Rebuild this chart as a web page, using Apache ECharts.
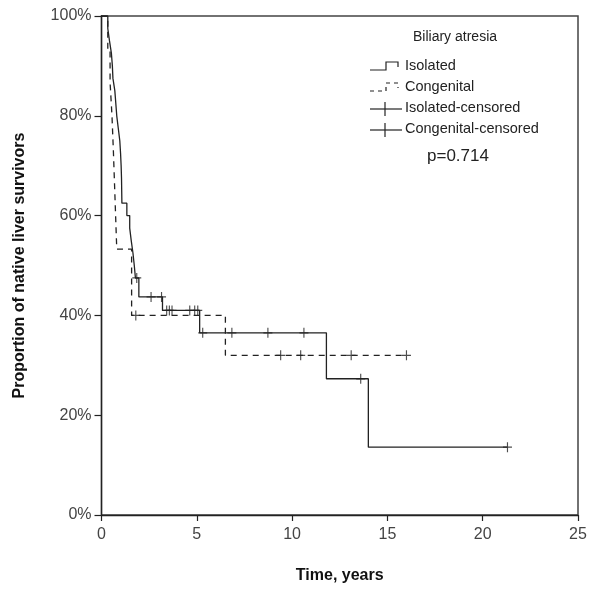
<!DOCTYPE html>
<html>
<head>
<meta charset="utf-8">
<script src="https://cdn.jsdelivr.net/npm/echarts@6/dist/echarts.min.js"></script>
<style>
html,body{margin:0;padding:0;background:#fff;}
#chart{width:591px;height:589px;}
</style>
</head>
<body>
<div id="chart"></div>
<script>
// ---- Data ----
const xTicks = [0, 5, 10, 15, 20, 25];
const yTicks = [0, 20, 40, 60, 80, 100];

// Isolated biliary atresia: Kaplan-Meier steps (time in years, survival %)
const isoTimes = [0, 0.33, 0.42, 0.52, 0.57, 0.60, 0.70, 0.75, 0.80, 0.88, 0.96, 1.00, 1.03, 1.05, 1.06, 1.07, 1.33, 1.48, 1.56, 1.65, 1.72, 1.78, 1.96, 3.20, 5.15, 11.80, 14.00, 21.30];
const isoSurv  = [100, 97.5, 95, 92.5, 90, 87.5, 85, 82.5, 80, 77.5, 75, 72.5, 70, 67.5, 65, 62.5, 60, 57.5, 55, 52.5, 50, 47.5, 43.7, 41, 36.5, 27.3, 13.6, 13.6];

// Congenital (syndromic) biliary atresia
const conTimes = [0, 0.33, 0.45, 0.55, 0.62, 0.68, 0.74, 0.80, 1.58, 6.50, 16.00];
const conSurv  = [100, 93.3, 86.7, 80, 73.3, 66.7, 60, 53.3, 40, 32, 32];

// Censored observations
const isoCensTimes = [1.85, 2.60, 3.15, 3.42, 3.56, 3.70, 4.63, 4.89, 5.05, 5.31, 6.84, 8.73, 10.62, 13.60, 21.30];
const isoCensSurv  = [47.5, 43.7, 43.7, 41, 41, 41, 41, 41, 41, 36.5, 36.5, 36.5, 36.5, 27.3, 13.6];
const conCensTimes = [1.80, 9.40, 10.45, 13.10, 16.00];
const conCensSurv  = [40, 32, 32, 32, 32];

const legendTitle = 'Biliary atresia';
const legendLabels = ['Isolated', 'Congenital', 'Isolated-censored', 'Congenital-censored'];
const pText = 'p=0.714';
const xName = 'Time, years';
const yName = 'Proportion of native liver survivors';

// ---- Build chart ----
const FONT = '"Liberation Sans", Arial, Helvetica, sans-serif';
const zip = (a, b) => a.map((v, i) => [v, b[i]]);
const plus = 'path://M5,0 L5,10 M0,5 L10,5';
const lineColor = '#222';

const chart = echarts.init(document.getElementById('chart'), null, {renderer: 'canvas'});

const lx = 370, ly0 = 67, dy = 21;
const graphic = [
  {type: 'text', left: 413, top: 30, style: {text: legendTitle, font: '14px ' + FONT, fill: '#222'}},
  {type: 'text', left: 427, top: 148, style: {text: pText, font: '17px ' + FONT, fill: '#222'}}
];
legendLabels.forEach((lab, i) => {
  const y = ly0 + i * dy;
  graphic.push({type: 'text', left: 405, top: y - 9, style: {text: lab, font: '14.5px ' + FONT, fill: '#222'}});
});
// legend icons
graphic.push({type: 'polyline', shape: {points: [[lx, ly0 + 3], [386, ly0 + 3], [386, ly0 - 5], [398, ly0 - 5], [398, ly0]]},
  style: {stroke: lineColor, lineWidth: 1.2, fill: null}});
graphic.push({type: 'polyline', shape: {points: [[lx, ly0 + dy + 3], [386, ly0 + dy + 3], [386, ly0 + dy - 5], [398, ly0 + dy - 5], [398, ly0 + dy]]},
  style: {stroke: lineColor, lineWidth: 1.2, fill: null, lineDash: [4, 4]}});
[2, 3].forEach(i => {
  const y = ly0 + i * dy;
  graphic.push({type: 'line', shape: {x1: lx, y1: y, x2: 402, y2: y}, style: {stroke: lineColor, lineWidth: 1.2}});
  graphic.push({type: 'line', shape: {x1: 385, y1: y - 7, x2: 385, y2: y + 7}, style: {stroke: lineColor, lineWidth: 1.2}});
});

const option = {
  animation: false,
  backgroundColor: '#fff',
  grid: {left: 101.5, right: 13, top: 16, bottom: 72, show: true, borderColor: '#444', borderWidth: 1.5},
  xAxis: {
    type: 'value', min: 0, max: 25, interval: 5,
    axisLine: {show: true, onZero: false, lineStyle: {color: lineColor, width: 1.3}},
    axisTick: {show: true, length: 6, lineStyle: {color: lineColor, width: 1.2}},
    splitLine: {show: false},
    axisLabel: {fontSize: 16, color: '#444', margin: 12, fontFamily: FONT,
      formatter: v => xTicks.includes(v) ? String(v) : ''},
    name: xName, nameLocation: 'middle', nameGap: 53,
    nameTextStyle: {fontWeight: 'bold', fontSize: 16, color: '#111', fontFamily: FONT}
  },
  yAxis: {
    type: 'value', min: 0, max: 100, interval: 20,
    axisLine: {show: true, onZero: false, lineStyle: {color: lineColor, width: 1.3}},
    axisTick: {show: true, length: 7, lineStyle: {color: lineColor, width: 1.2}},
    splitLine: {show: false},
    axisLabel: {fontSize: 16, color: '#444', margin: 10, fontFamily: FONT,
      formatter: v => yTicks.includes(v) ? v + '%' : ''},
    name: yName, nameLocation: 'middle', nameGap: 74,
    nameTextStyle: {fontWeight: 'bold', fontSize: 16, color: '#111', fontFamily: FONT}
  },
  graphic: graphic,
  series: [
    {name: legendLabels[0], type: 'line', step: 'end', symbol: 'none',
      data: zip(isoTimes, isoSurv), lineStyle: {color: lineColor, width: 1.3}, z: 3},
    {name: legendLabels[1], type: 'line', step: 'end', symbol: 'none',
      data: zip(conTimes, conSurv), lineStyle: {color: lineColor, width: 1.3, type: [6, 5]}, z: 2},
    {name: legendLabels[2], type: 'scatter', symbol: plus, symbolSize: [9, 10],
      data: zip(isoCensTimes, isoCensSurv),
      itemStyle: {color: 'rgba(0,0,0,0)', borderColor: lineColor, borderWidth: 1.2}, z: 4},
    {name: legendLabels[3], type: 'scatter', symbol: plus, symbolSize: [9, 10],
      data: zip(conCensTimes, conCensSurv),
      itemStyle: {color: 'rgba(0,0,0,0)', borderColor: lineColor, borderWidth: 1.2}, z: 4}
  ]
};
chart.setOption(option);
</script>
</body>
</html>
